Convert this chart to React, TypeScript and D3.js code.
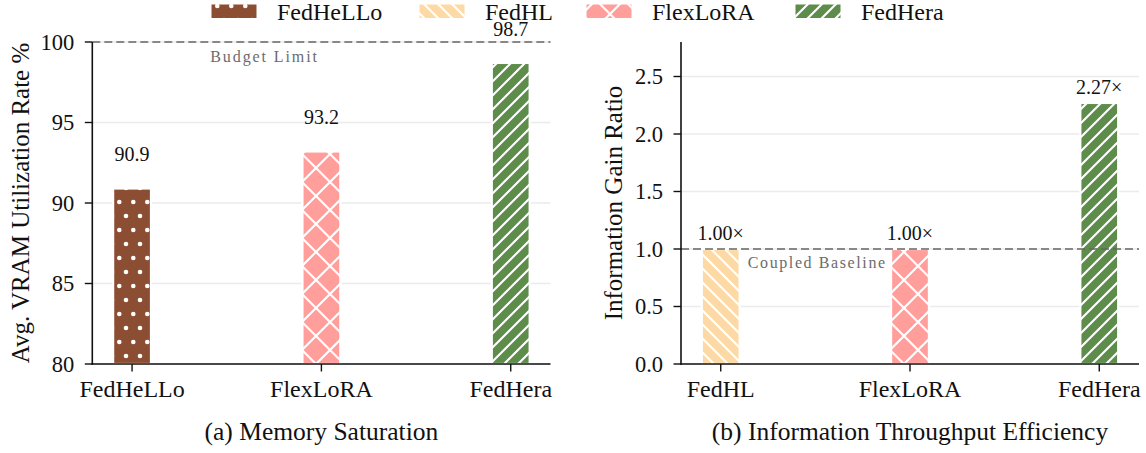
import React from "react";
import * as d3 from "d3";

// data
const categoriesA = ["FedHeLLo", "FlexLoRA", "FedHera"];
const valuesA = [90.9, 93.2, 98.7];
const ticksA = [80, 85, 90, 95, 100];
const budgetLimit = 100;

const categoriesB = ["FedHL", "FlexLoRA", "FedHera"];
const valuesB = [1.0, 1.0, 2.27];
const ticksB = [0, 0.5, 1.0, 1.5, 2.0, 2.5];
const coupledBaseline = 1.0;

const legendNames = ["FedHeLLo", "FedHL", "FlexLoRA", "FedHera"];

// style per method
const methodStyle: Record<string, { color: string; pattern: string }> = {
  FedHeLLo: { color: "#8c4e33", pattern: "pat-dots" },
  FedHL: { color: "#fddaa5", pattern: "pat-back" },
  FlexLoRA: { color: "#ff9e9b", pattern: "pat-cross" },
  FedHera: { color: "#5e8c4a", pattern: "pat-fwd" },
};

const FONT = "'Liberation Serif', 'Times New Roman', serif";
const W = 1146;
const H = 453;

const Patterns = () => (
  <defs>
    <pattern id="pat-dots" patternUnits="userSpaceOnUse" width={14} height={28}>
      <circle cx={7.3} cy={6} r={2.3} fill="white" />
      <circle cx={0} cy={20} r={2.3} fill="white" />
      <circle cx={14} cy={20} r={2.3} fill="white" />
    </pattern>
    <pattern id="pat-fwd" patternUnits="userSpaceOnUse" width={14} height={14}>
      <path d="M-2,2 L2,-2 M0,14 L14,0 M12,16 L16,12" stroke="white" strokeWidth={2.1} />
    </pattern>
    <pattern id="pat-back" patternUnits="userSpaceOnUse" width={14} height={14}>
      <path d="M-2,12 L2,16 M0,0 L14,14 M12,-2 L16,2" stroke="white" strokeWidth={2.1} />
    </pattern>
    <pattern id="pat-cross" patternUnits="userSpaceOnUse" width={28} height={28} x={8} y={0}>
      <path d="M0,0 L28,28 M0,28 L28,0" stroke="white" strokeWidth={2.1} />
    </pattern>
  </defs>
);

type PanelProps = {
  left: number;
  right: number;
  categories: string[];
  values: number[];
  domain: [number, number];
  ticks: number[];
  tickFmt: (v: number) => string;
  labelFmt: (v: number) => string;
  labelOffset: number;
  refValue: number;
  refText: string;
  refTextX: number;
  refTextY: number;
  refSpacing: number;
  yLabel: string;
  yLabelX: number;
  caption: string;
};

const Panel = (p: PanelProps) => {
  const top = 42;
  const bottom = 364;
  const n = p.categories.length;
  const x = d3.scaleLinear().domain([-0.21, n - 1 + 0.21]).range([p.left, p.right]);
  const y = d3.scaleLinear().domain(p.domain).range([bottom, top]);
  const barW = x(0.2) - x(0);
  const midX = (p.left + p.right) / 2;

  return (
    <g fontFamily={FONT}>
      {/* grid */}
      {p.ticks.map((t) => (
        <line key={"g" + t} x1={p.left} x2={p.right} y1={y(t)} y2={y(t)} stroke="#ebebeb" strokeWidth={1.3} />
      ))}
      {/* bars */}
      {p.categories.map((c, i) => {
        const s = methodStyle[c];
        const bx = x(i) - barW / 2;
        const by = y(p.values[i]);
        const bh = bottom - by;
        return (
          <g key={c}>
            <rect x={bx} y={by} width={barW} height={bh} fill={s.color} />
            <rect x={bx} y={by} width={barW} height={bh} fill={`url(#${s.pattern})`} stroke="white" strokeWidth={2.2} />
          </g>
        );
      })}
      {/* reference line */}
      <line x1={p.left} x2={p.right} y1={y(p.refValue)} y2={y(p.refValue)} stroke="#666" strokeWidth={1.7} strokeDasharray="8,4" />
      <text
        x={x(p.refTextX)}
        y={y(p.refTextY)}
        textAnchor="middle"
        fontSize={16}
        fill="#6b6b6b"
        letterSpacing={p.refSpacing}
      >
        {p.refText}
      </text>
      {/* value labels */}
      {p.categories.map((c, i) => (
        <text key={"v" + c} x={x(i)} y={y(p.values[i] + p.labelOffset)} textAnchor="middle" fontSize={20} fill="#111">
          {p.labelFmt(p.values[i])}
        </text>
      ))}
      {/* axes */}
      <line x1={p.left} x2={p.left} y1={top} y2={bottom + 0.8} stroke="#111" strokeWidth={1.6} />
      <line x1={p.left - 0.8} x2={p.right} y1={bottom} y2={bottom} stroke="#111" strokeWidth={1.6} />
      {p.ticks.map((t) => (
        <g key={"t" + t}>
          <line x1={p.left - 7.5} x2={p.left} y1={y(t)} y2={y(t)} stroke="#111" strokeWidth={1.4} />
          <text x={p.left - 18} y={y(t) + 7.5} textAnchor="end" fontSize={22.5} fill="#111">
            {p.tickFmt(t)}
          </text>
        </g>
      ))}
      {p.categories.map((c, i) => (
        <g key={"x" + c}>
          <line x1={x(i)} x2={x(i)} y1={bottom} y2={bottom + 7.5} stroke="#111" strokeWidth={1.4} />
          <text x={x(i)} y={396.5} textAnchor="middle" fontSize={24} fill="#111">
            {c}
          </text>
        </g>
      ))}
      <text
        transform={`translate(${p.yLabelX},${(top + bottom) / 2}) rotate(-90)`}
        textAnchor="middle"
        fontSize={25}
        fill="#111"
      >
        {p.yLabel}
      </text>
      <text x={midX} y={440} textAnchor="middle" fontSize={25.5} fill="#111">
        {p.caption}
      </text>
    </g>
  );
};

const Legend = () => {
  const xs = [211, 419, 586, 795];
  return (
    <g fontFamily={FONT}>
      {legendNames.map((n, i) => {
        const s = methodStyle[n];
        return (
          <g key={n}>
            <rect x={xs[i]} y={4} width={46} height={14.5} fill={s.color} />
            <rect x={xs[i]} y={4} width={46} height={14.5} fill={`url(#${s.pattern})`} stroke="white" strokeWidth={1} />
            <text x={xs[i] + 66} y={20} fontSize={24} fill="#111">
              {n}
            </text>
          </g>
        );
      })}
    </g>
  );
};

export default function App() {
  return (
    <svg width={W} height={H} style={{ position: "absolute", left: 0, top: 0, background: "white" }}>
      <Patterns />
      <rect width={W} height={H} fill="white" />
      <Panel
        left={92.3}
        right={550.5}
        categories={categoriesA}
        values={valuesA}
        domain={[80, 100]}
        ticks={ticksA}
        tickFmt={(v) => d3.format("d")(v)}
        labelFmt={(v) => d3.format(".1f")(v)}
        labelOffset={1.7}
        refValue={budgetLimit}
        refText="Budget Limit"
        refTextX={0.7}
        refTextY={98.75}
        refSpacing={1.9}
        yLabel="Avg. VRAM Utilization Rate %"
        yLabelX={29}
        caption="(a) Memory Saturation"
      />
      <Panel
        left={681}
        right={1139}
        categories={categoriesB}
        values={valuesB}
        domain={[0, 2.8]}
        ticks={ticksB}
        tickFmt={(v) => d3.format(".1f")(v)}
        labelFmt={(v) => d3.format(".2f")(v) + "×"}
        labelOffset={0.075}
        refValue={coupledBaseline}
        refText="Coupled Baseline"
        refTextX={0.51}
        refTextY={0.835}
        refSpacing={1.6}
        yLabel="Information Gain Ratio"
        yLabelX={622}
        caption="(b) Information Throughput Efficiency"
      />
      <Legend />
    </svg>
  );
}
